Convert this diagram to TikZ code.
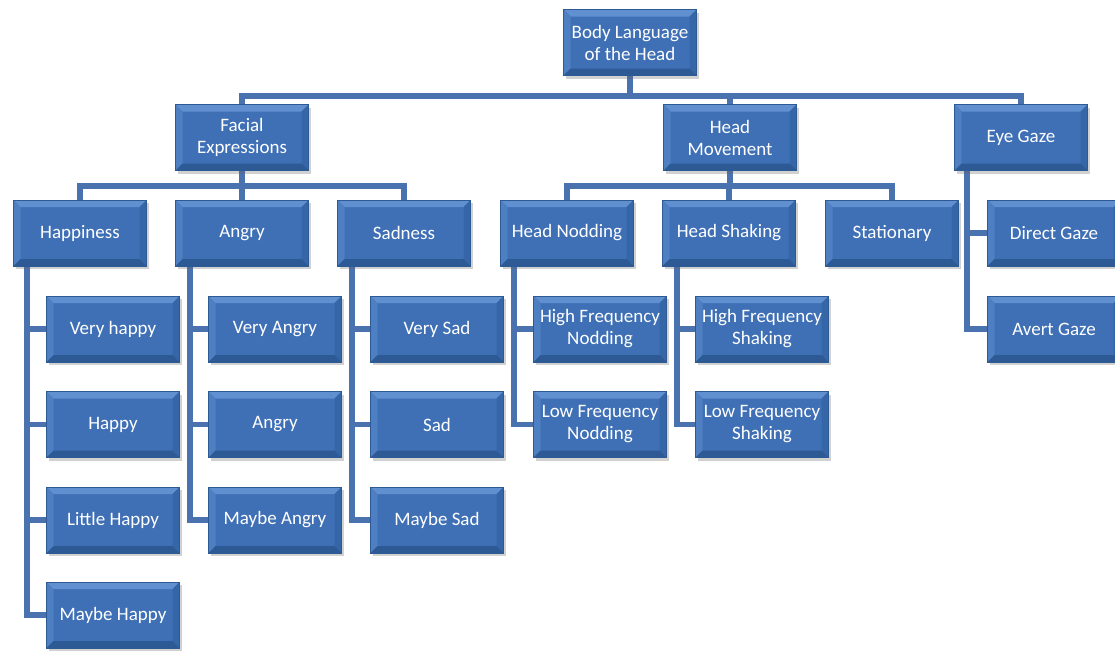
\documentclass[tikz,border=0pt]{standalone}
\usepackage{fontspec}
\setmainfont{Carlito}
\usetikzlibrary{backgrounds,shadows}
\definecolor{boxmid}{HTML}{3F70B6}
\definecolor{boxdark}{HTML}{2E5A94}
\definecolor{bevtop}{HTML}{6090D0}
\definecolor{bevleft}{HTML}{4D7FC2}
\definecolor{bevright}{HTML}{3566A8}
\definecolor{bevbot}{HTML}{2D5A95}
\definecolor{conncol}{HTML}{4A72AE}
\tikzset{
  box/.style={minimum width=133pt, minimum height=66pt, inner sep=0pt, align=center,
    text=white, font=\fontsize{19}{22}\selectfont, fill=boxmid, draw=boxdark, line width=0.6pt,
    drop shadow={shadow xshift=2pt, shadow yshift=-3pt, opacity=0.3, fill=black!60},
    path picture={
      \fill[bevtop] (path picture bounding box.north west) -- (path picture bounding box.north east)
        -- ([xshift=-7pt,yshift=-7pt]path picture bounding box.north east)
        -- ([xshift=7pt,yshift=-7pt]path picture bounding box.north west) -- cycle;
      \fill[bevleft] (path picture bounding box.north west) -- ([xshift=7pt,yshift=-7pt]path picture bounding box.north west)
        -- ([xshift=7pt,yshift=7pt]path picture bounding box.south west) -- (path picture bounding box.south west) -- cycle;
      \fill[bevright] (path picture bounding box.north east) -- ([xshift=-7pt,yshift=-7pt]path picture bounding box.north east)
        -- ([xshift=-7pt,yshift=7pt]path picture bounding box.south east) -- (path picture bounding box.south east) -- cycle;
      \fill[bevbot] (path picture bounding box.south west) -- ([xshift=7pt,yshift=7pt]path picture bounding box.south west)
        -- ([xshift=-7pt,yshift=7pt]path picture bounding box.south east) -- (path picture bounding box.south east) -- cycle;
    }},
  conn/.style={draw=conncol, line width=5.5pt}
}
\begin{document}
\begin{tikzpicture}[x=1pt,y=-1pt]
\useasboundingbox (0,0) rectangle (1115,651);
\node[box] (root) at (630,42.5) {Body Language\\of the Head};
\node[box] (fe) at (242,137.5) {Facial\\Expressions};
\node[box] (hm) at (730,137.5) {Head\\Movement};
\node[box] (eg) at (1021,137.5) {Eye Gaze};
% level 2
\node[box] (hap) at (80,233) {Happiness};
\node[box] (ang) at (242,233) {Angry};
\node[box] (sad) at (404,233) {Sadness};
\node[box] (hn) at (567,233) {Head Nodding};
\node[box] (hs) at (729,233) {Head Shaking};
\node[box] (st) at (892,233) {Stationary};
\node[box] (dg) at (1054,233) {Direct Gaze};
\node[box] (ag) at (1054,329) {Avert Gaze};
% happiness
\node[box] (h1) at (113,329) {Very happy};
\node[box] (h2) at (113,424.5) {Happy};
\node[box] (h3) at (113,520) {Little Happy};
\node[box] (h4) at (113,615) {Maybe Happy};
% angry
\node[box] (a1) at (275,329) {Very Angry};
\node[box] (a2) at (275,424.5) {Angry};
\node[box] (a3) at (275,520) {Maybe Angry};
% sadness
\node[box] (s1) at (437,329) {Very Sad};
\node[box] (s2) at (437,424.5) {Sad};
\node[box] (s3) at (437,520) {Maybe Sad};
% nodding
\node[box] (n1) at (600,329) {High Frequency\\Nodding};
\node[box] (n2) at (600,424.5) {Low Frequency\\Nodding};
% shaking
\node[box] (k1) at (762,329) {High Frequency\\Shaking};
\node[box] (k2) at (762,424.5) {Low Frequency\\Shaking};
\begin{scope}[on background layer]
  \draw[conn] (root.south) -- ++(0,20) -| (fe.north);
  \draw[conn] (root.south) -- ++(0,20) -| (hm.north);
  \draw[conn] (root.south) -- ++(0,20) -| (eg.north);
  \draw[conn] (fe.south) -- ++(0,15) -| (hap.north);
  \draw[conn] (fe.south) -- ++(0,15) -| (ang.north);
  \draw[conn] (fe.south) -- ++(0,15) -| (sad.north);
  \draw[conn] (hm.south) -- ++(0,15) -| (hn.north);
  \draw[conn] (hm.south) -- ++(0,15) -| (hs.north);
  \draw[conn] (hm.south) -- ++(0,15) -| (st.north);
  \draw[conn] ([xshift=13pt]eg.south west) |- (dg.west);
  \draw[conn] ([xshift=13pt]eg.south west) |- (ag.west);
  \foreach \c in {h1,h2,h3,h4} \draw[conn] ([xshift=14pt]hap.south west) |- (\c.west);
  \foreach \c in {a1,a2,a3} \draw[conn] ([xshift=15pt]ang.south west) |- (\c.west);
  \foreach \c in {s1,s2,s3} \draw[conn] ([xshift=15pt]sad.south west) |- (\c.west);
  \foreach \c in {n1,n2} \draw[conn] ([xshift=14pt]hn.south west) |- (\c.west);
  \foreach \c in {k1,k2} \draw[conn] ([xshift=15pt]hs.south west) |- (\c.west);
\end{scope}
\end{tikzpicture}
\end{document}
